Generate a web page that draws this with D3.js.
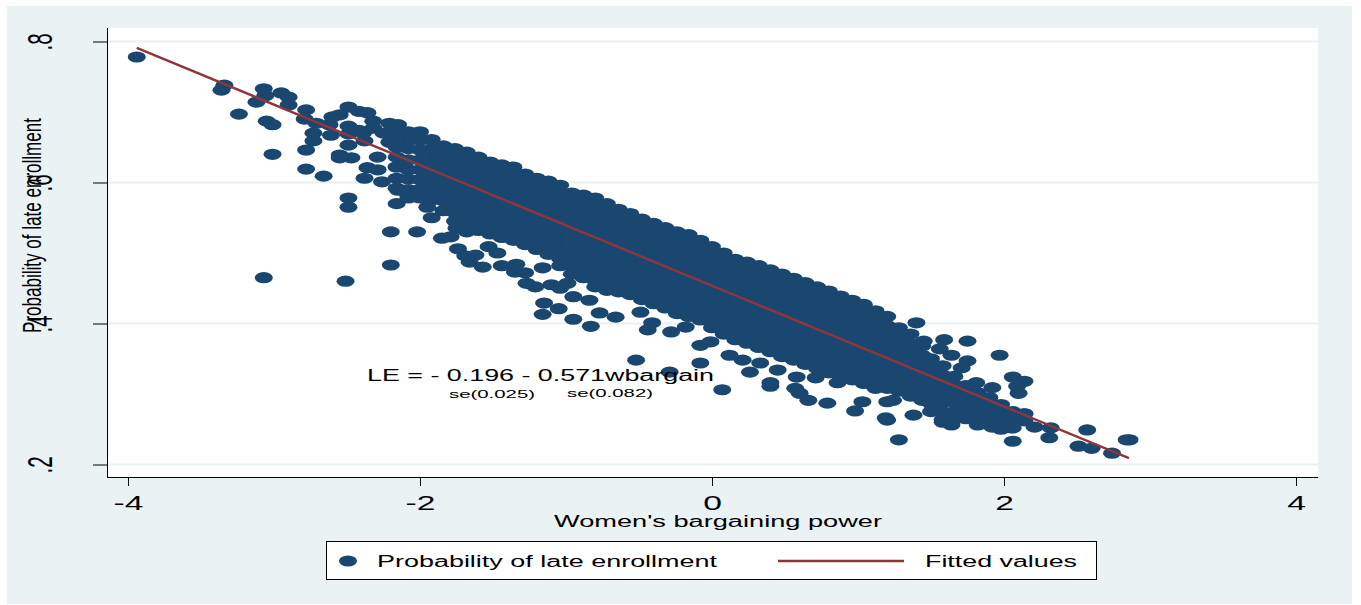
<!DOCTYPE html>
<html><head><meta charset="utf-8">
<script src="https://cdn.jsdelivr.net/npm/d3@7/dist/d3.min.js"></script>
<style>html,body{margin:0;padding:0;background:#fff}svg{display:block}text{font-family:"Liberation Sans",Arial,sans-serif;fill:#000}</style>
</head><body><svg id="c" width="1361" height="605"></svg>
<script>
const xTicks=[-4,-2,0,2,4];
const yTicks=[.2,.4,.6,.8];
const yTickLabels=[".2",".4",".6",".8"];
const xTitle="Women's bargaining power";
const yTitle="Probability of late enrollment";
const legendLabels=["Probability of late enrollment","Fitted values"];
const equation="LE = - 0.196 - 0.571wbargain";
const seLabels=["se(0.025)","se(0.082)"];
const fittedX=[-3.94,2.856];
const fittedY=[.791,.209];
const upperLeft=[[-3.94,.778],[-3.34,.738],[-3.36,.731],[-3.07,.733],[-3.06,.723],[-3.12,.714],[-3.24,.697],[-2.95,.727],[-2.90,.721],[-2.90,.710],[-2.78,.703],[-3.05,.687],[-3.01,.682],[-3.01,.640],[-2.78,.646],[-2.78,.619],[-2.66,.609],[-2.49,.578],[-2.49,.565],[-2.16,.570],[-2.20,.530],[-2.02,.530],[-2.20,.483],[-3.07,.465],[-2.51,.460],[-1.92,.550],
[-2.49,.707],[-2.42,.701],[-2.36,.699],[-2.32,.687],[-2.60,.693],[-2.55,.696],[-2.79,.690],[-2.71,.684],[-2.62,.682],[-2.49,.680],[-2.42,.674],[-2.73,.670],[-2.61,.667],[-2.49,.669],[-2.39,.670],[-2.73,.659],[-2.49,.653],[-2.38,.659],[-2.55,.639],[-2.47,.635],[-2.55,.635],[-2.36,.621],[-2.38,.606],[-2.26,.601],[-2.29,.618],[-2.29,.636],[-2.21,.684],[-2.15,.682],[-2.32,.677],[-2.25,.670],[-2.21,.657],[-2.16,.622],[-2.15,.589],[-2.08,.582],[-1.95,.565]];
const lowerFringe=[[-1.85,.521],[-1.79,.523],[-1.75,.535],[-1.74,.506],[-1.69,.496],[-1.62,.497],[-1.66,.487],[-1.57,.480],[-1.53,.509],[-1.47,.500],[-1.44,.482],[-1.34,.484],[-1.35,.473],[-1.28,.472],[-1.27,.457],[-1.21,.452],[-1.16,.479],[-1.10,.455],[-1.04,.450],[-.99,.457],[-.95,.438],[-.84,.433],[-1.15,.429],[-1.05,.421],[-1.16,.413],[-.95,.406],[-.83,.396],[-.77,.415],[-.66,.409],[-.49,.416],[-.41,.401],[-.44,.391],[-.28,.388],[-.18,.395],[-.52,.348],[-.29,.331],[-.08,.344],[.07,.306],
[-.08,.369],[-.01,.374],[.12,.355],[.21,.348],[.26,.331],[.33,.344],[.45,.334],[.40,.316],[.40,.311],[.58,.324],[.57,.308],[.60,.301],[.66,.291],[.79,.287],[.71,.323],[.86,.316],[1.03,.289],[.98,.276],[1.20,.263],[1.19,.266],[1.20,.289],[1.38,.270],[1.24,.291],[1.58,.260],[1.51,.277]];
const lowerRight=[[1.45,.375],[1.59,.377],[1.75,.375],[1.97,.355],[2.06,.324],[2.14,.318],[2.09,.311],[2.10,.301],[1.92,.309],[1.81,.316],[1.75,.347],[1.71,.337],[1.53,.337],[1.64,.355],[1.56,.364],[1.40,.401],[1.28,.235],[2.06,.233],[2.31,.238],[2.57,.249],[2.51,.226],[2.60,.223],[2.74,.216],[2.86,.235],[2.84,.235],[2.14,.272],[2.05,.252],[1.92,.253],[2.21,.253],[2.32,.252],[1.64,.256],[1.78,.267],[1.95,.273]];
const columnX=[-2.16,-2.08,-2,-1.92,-1.84,-1.76,-1.68,-1.6,-1.52,-1.44,-1.36,-1.28,-1.2,-1.12,-1.04,-.96,-.88,-.8,-.72,-.64,-.56,-.48,-.4,-.32,-.24,-.16,-.08,0,.08,.16,.24,.32,.4,.48,.56,.64,.72,.8,.88,.96,1.04,1.12,1.2,1.28,1.36,1.44,1.5,1.58,1.66,1.74,1.82,1.9,1.98,2.06,2.14];
const columnY=[
[.677,.664,.650,.636,.622,.606,.592],
[.672,.660,.648,.632,.618,.605,.590,.578],
[.672,.660,.646,.632,.618,.604,.590,.578],
[.661,.648,.635,.622,.609,.596,.583,.575],
[.652,.639,.626,.613,.600,.587,.574,.560],
[.648,.635,.622,.609,.596,.583,.570,.557,.545],
[.643,.630,.617,.604,.591,.578,.565,.552,.539,.530],
[.636,.623,.610,.597,.584,.571,.558,.545,.532],
[.629,.616,.603,.590,.577,.564,.551,.538,.527],
[.625,.612,.599,.586,.573,.560,.547,.534,.522],
[.622,.609,.596,.583,.570,.557,.544,.531,.518],
[.612,.599,.586,.573,.560,.547,.534,.521,.512],
[.606,.594,.581,.568,.555,.542,.529,.516,.505],
[.602,.589,.576,.563,.550,.537,.524,.511,.498],
[.596,.583,.570,.557,.544,.531,.518,.505,.492,.482],
[.585,.572,.559,.546,.533,.520,.507,.494,.481,.470],
[.582,.569,.556,.543,.530,.517,.504,.491,.478,.465],
[.578,.565,.552,.539,.526,.513,.500,.487,.474,.461,.452],
[.570,.557,.544,.531,.518,.505,.492,.479,.466,.453,.447],
[.562,.549,.536,.523,.510,.497,.484,.471,.458,.445],
[.556,.543,.530,.517,.504,.491,.478,.465,.452,.441],
[.548,.535,.522,.509,.496,.483,.470,.457,.444,.434],
[.542,.529,.516,.503,.490,.477,.464,.451,.438,.428],
[.536,.523,.510,.497,.484,.471,.458,.445,.432,.422],
[.530,.517,.504,.491,.478,.465,.452,.439,.426,.414],
[.526,.513,.500,.487,.474,.461,.448,.435,.422,.410],
[.518,.505,.492,.479,.466,.453,.440,.427,.414,.405],
[.509,.496,.483,.470,.457,.444,.431,.418,.405,.394],
[.500,.487,.474,.461,.448,.435,.422,.409,.396,.385],
[.491,.478,.465,.452,.439,.426,.413,.400,.387,.377],
[.487,.474,.461,.448,.435,.422,.409,.396,.383,.372],
[.482,.469,.456,.443,.430,.417,.404,.391,.378,.366],
[.476,.463,.450,.437,.424,.411,.398,.385,.372,.360],
[.470,.457,.444,.431,.418,.405,.392,.379,.366,.353],
[.464,.451,.438,.425,.412,.399,.386,.373,.360,.348],
[.458,.445,.432,.419,.406,.393,.380,.367,.354,.342],
[.452,.439,.426,.413,.400,.387,.374,.361,.348,.336],
[.446,.433,.420,.407,.394,.381,.368,.355,.342,.330],
[.439,.426,.413,.400,.387,.374,.361,.348,.335,.325],
[.433,.420,.407,.394,.381,.368,.355,.342,.329,.320],
[.427,.414,.401,.388,.375,.362,.349,.336,.323,.315],
[.418,.405,.392,.379,.366,.353,.340,.327,.316,.308],
[.410,.397,.384,.371,.358,.345,.332,.319,.308],
[.394,.381,.368,.355,.342,.329,.316,.304],
[.385,.372,.359,.346,.333,.320,.307,.297],
[.368,.355,.342,.329,.316,.303,.291],
[.350,.338,.325,.312,.299,.286,.275],
[.340,.327,.314,.301,.288,.275,.264],
[.325,.312,.300,.288,.275,.264],
[.312,.300,.288,.276,.265],
[.302,.290,.278,.266,.256],
[.295,.283,.271,.259],
[.285,.273,.262,.250],
[.275,.263,.252],
[.272,.262]];

const navy="#1a476f",maroon="#90353b",bg="#eaf2f3";
const rx=9,ry=5.6,stretch=1.6;
const svg=d3.select("#c");
const x=d3.scaleLinear().domain([-4,4]).range([128,1296]);
const y=d3.scaleLinear().domain([.2,.8]).range([464.5,41.5]);
const L=107,R=1318,T=28,B=477;

svg.append("rect").attr("x",7).attr("y",6).attr("width",1345).attr("height",598).attr("fill",bg);
svg.append("rect").attr("x",L).attr("y",T).attr("width",R-L).attr("height",B-T).attr("fill","#fff");

svg.append("g").selectAll("line").data(yTicks).join("line")
 .attr("x1",L).attr("x2",R).attr("y1",d=>y(d)).attr("y2",d=>y(d)).attr("stroke",bg).attr("stroke-width",2);

const points=[...upperLeft,...lowerFringe,...lowerRight,...columnX.flatMap((cx,i)=>columnY[i].map(v=>[cx,v]))];
svg.append("g").selectAll("ellipse").data(points).join("ellipse")
 .attr("cx",d=>x(d[0])).attr("cy",d=>y(d[1])).attr("rx",rx).attr("ry",ry).attr("fill",navy);

svg.append("path").datum(fittedX.map((v,i)=>[v,fittedY[i]]))
 .attr("d",d3.line().x(d=>x(d[0])).y(d=>y(d[1]))).attr("fill","none").attr("stroke",maroon).attr("stroke-width",2.4);

const gx=svg.append("g").attr("transform",`translate(0,${B})`)
 .call(d3.axisBottom(x).tickValues(xTicks).tickSize(9).tickFormat(d3.format("d")));
gx.select(".domain").attr("d",`M${L},0.5H${R}`).attr("stroke","#000");
gx.selectAll("text").attr("y",null).attr("dy",null).attr("font-size",21)
 .attr("text-anchor","middle").attr("transform",`translate(0,33) scale(${stretch},1)`).text(d=>String(d));

const gy=svg.append("g").attr("transform",`translate(${L},0)`)
 .call(d3.axisLeft(y).tickValues(yTicks).tickSize(14).tickFormat((d,i)=>yTickLabels[i]));
gy.select(".domain").attr("d",`M0.5,${T}V${B}`).attr("stroke","#000");
gy.selectAll("text").attr("x",null).attr("dy",null).attr("font-size",21)
 .attr("text-anchor","middle").attr("transform",`translate(-55,0) rotate(-90) scale(0.98,1.7)`);

function label(s,px,py,size,len,rot){
 const t=svg.append("text").attr("font-size",size).attr("textLength",len).attr("lengthAdjust","spacingAndGlyphs").text(s);
 if(rot) t.attr("transform",`translate(${px},${py}) rotate(-90)`); else t.attr("x",px).attr("y",py);
 return t;
}
label(yTitle,41,333,26,215,true);
label(xTitle,554,527,16,328);
label(equation,367,381,16,347);
label(seLabels[0],449,398,11.5,86);
label(seLabels[1],567,397,11.5,86);

svg.append("rect").attr("x",326.5).attr("y",541.5).attr("width",770).attr("height",38).attr("fill","#fff").attr("stroke","#000").attr("stroke-width",1);
svg.append("ellipse").attr("cx",348).attr("cy",561).attr("rx",rx).attr("ry",ry).attr("fill",navy);
label(legendLabels[0],377,567,16,340);
svg.append("line").attr("x1",778).attr("x2",904).attr("y1",561).attr("y2",561).attr("stroke",maroon).attr("stroke-width",2.4);
label(legendLabels[1],925,567,16,152);
</script></body></html>
